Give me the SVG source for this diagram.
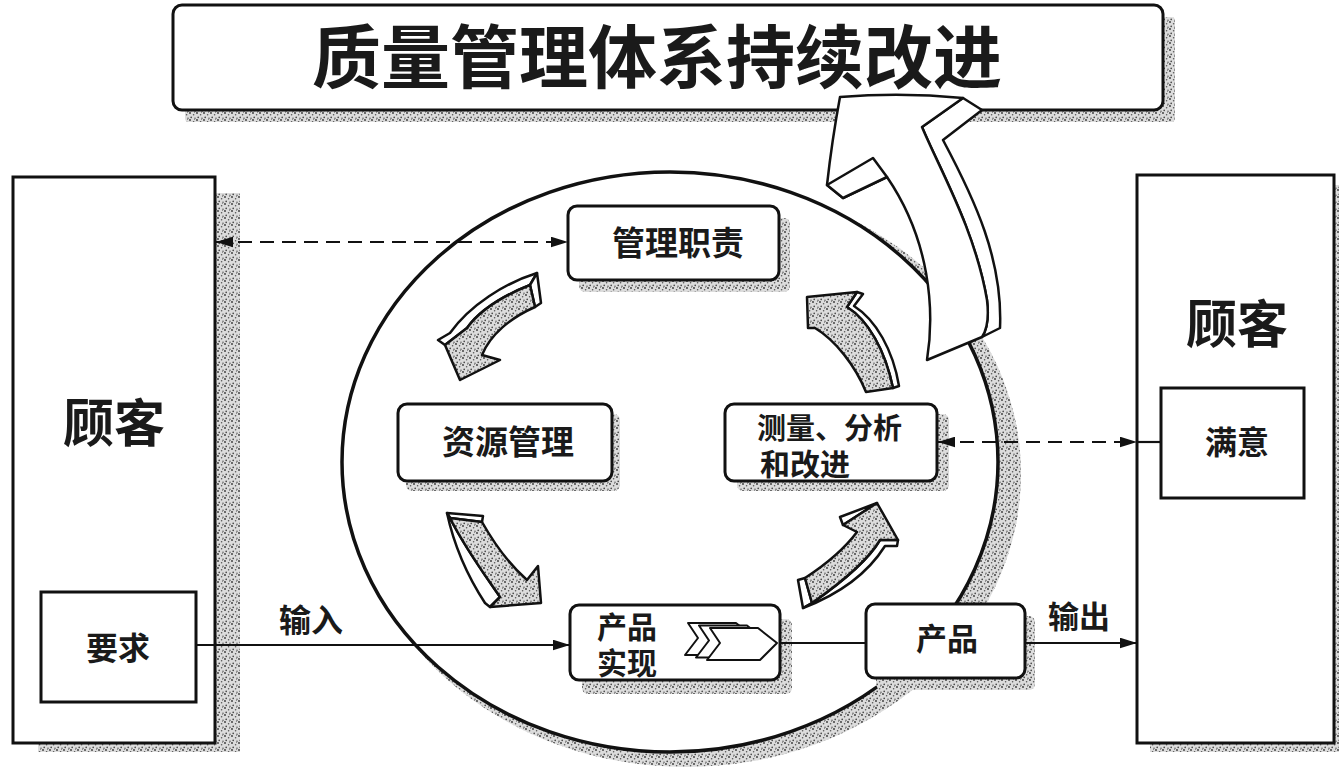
<svg xmlns="http://www.w3.org/2000/svg" width="1339" height="775" viewBox="0 0 1339 775">
<defs>
<pattern id="st" width="7" height="7" patternUnits="userSpaceOnUse">
<rect width="7" height="7" fill="#dcdcdc"/>
<circle cx="1" cy="1" r="0.9" fill="#333"/>
<circle cx="4.6" cy="2.8" r="0.8" fill="#555"/>
<circle cx="2.2" cy="5.4" r="0.8" fill="#444"/>
<circle cx="6" cy="6.2" r="0.6" fill="#222"/>
<circle cx="5.5" cy="0.6" r="0.5" fill="#777"/>
</pattern>
<marker id="ah" viewBox="0 0 16 10" refX="16" refY="5" markerWidth="17" markerHeight="11" markerUnits="userSpaceOnUse" orient="auto-start-reverse">
<path d="M0,0 L16,5 L0,10 Z" fill="#111"/>
</marker>
</defs>
<style>
.t{font-family:"Noto Sans CJK SC","Noto Sans CJK JP",sans-serif;font-weight:700;fill:#1a1a1a}
.box{fill:#fff;stroke:#111;stroke-width:3}
.sh{fill:url(#st);stroke:none}
.ln{stroke:#111;stroke-width:2.2;fill:none}
.dash{stroke:#111;stroke-width:2.2;fill:none;stroke-dasharray:14 8}
.arf{fill:url(#st);stroke:#111;stroke-width:2.5;stroke-linejoin:round}
.arw{fill:#fff;stroke:#111;stroke-width:2.5;stroke-linejoin:round}
</style>
<rect width="1339" height="775" fill="#fff"/>

<g id="title">
<rect class="sh" x="185" y="17" width="990" height="105" rx="4"/>
<rect class="box" x="173" y="5" width="990" height="105" rx="9"/>
<text class="t" x="657" y="83" font-size="69" text-anchor="middle">质量管理体系持续改进</text>
</g>

<g id="customer-left">
<rect class="sh" x="38" y="193" width="202" height="559"/>
<rect class="box" x="13" y="177" width="202" height="566"/>
<text class="t" x="114" y="442" font-size="51" text-anchor="middle">顾客</text>
</g>
<g id="requirement">
<rect class="box" x="41" y="592" width="155" height="110" stroke-width="2.5"/>
<text class="t" x="118" y="660" font-size="32" text-anchor="middle">要求</text>
</g>

<g id="customer-right">
<rect class="sh" x="1150" y="185" width="197" height="567"/>
<rect class="box" x="1137" y="175" width="197" height="568"/>
<text class="t" x="1237" y="343" font-size="51" text-anchor="middle">顾客</text>
</g>
<g id="satisfaction">
<rect class="box" x="1161" y="388" width="143" height="110" stroke-width="2.5"/>
<text class="t" x="1237" y="454" font-size="32" text-anchor="middle">满意</text>
</g>

<g id="cycle">
<ellipse class="sh" cx="686" cy="474" rx="335" ry="293"/>
<ellipse cx="670" cy="462" rx="328" ry="290" fill="#fff" stroke="#111" stroke-width="3.5"/>
</g>

<g id="improvement-arrow">
<path class="arw" d="M963,98 L982,110 L943,140 C975,200 1003,260 1000,328 L982,337 Q990,325 987,300 C975,230 940,170 922,127 Z"/>
<path class="arw" d="M840,97 Q902,92 963,98 L922,127 C940,170 975,230 987,300 Q990,325 982,337 L927,360 C935,310 930,240 887,177 L843,198 L827,185 Q832,140 840,97 Z"/>
<path class="arw" d="M827,185 L873,158 L887,177 L843,198 Z"/>
</g>

<g id="cycle-arrows">
<path class="arw" d="M537,273 C505,283 470,305 450,333 L438,340 L445,345 L467,328 C480,310 505,295 530,285 Z"/>
<path class="arw" d="M537,273 L530,285 L535,307 L541,303 Z"/>
<path class="arf" d="M530,285 C505,295 480,310 467,328 L445,345 L460,380 L500,360 L482,355 C490,335 510,318 535,307 Z"/>

<path class="arw" d="M447,513 L483,516 L482,522 L450,518 Z"/>
<path class="arw" d="M447,513 L450,518 C465,548 485,575 500,597 L490,607 L485,603 C470,580 455,550 447,513 Z"/>
<path class="arf" d="M450,518 L482,522 C495,545 510,565 527,580 L538,566 L541,603 L490,607 L500,597 C485,575 465,548 450,518 Z"/>

<path class="arw" d="M798,580 L805,578 L812,603 L803,608 Z"/>
<path class="arw" d="M803,608 L812,603 C845,580 870,557 880,540 L898,540 L897,546 L885,546 C873,565 850,590 803,608 Z"/>
<path class="arw" d="M840,517 L877,503 L843,525 Z"/>
<path class="arf" d="M805,578 C825,565 845,548 857,532 L843,525 L877,503 L898,540 L880,540 C870,557 845,580 812,603 Z"/>

<path class="arw" d="M893,388 C885,350 868,320 847,307 L857,292 L863,294 L854,306 C876,320 893,350 899,386 Z"/>
<path class="arf" d="M866,392 C855,365 835,340 815,328 L808,328 L807,297 L857,292 L847,307 C868,320 885,350 893,388 Z"/>
</g>

<g id="mgmt-responsibility">
<rect class="sh" x="579" y="218" width="211" height="74" rx="6"/>
<rect class="box" x="568" y="206" width="211" height="74" rx="9" stroke-width="2.5"/>
<text class="t" x="678" y="255" font-size="33" text-anchor="middle">管理职责</text>
</g>
<g id="resource-mgmt">
<rect class="sh" x="406" y="414" width="214" height="77" rx="6"/>
<rect class="box" x="398" y="404" width="214" height="77" rx="9" stroke-width="2.5"/>
<text class="t" x="508" y="454" font-size="33" text-anchor="middle">资源管理</text>
</g>
<g id="measurement">
<rect class="sh" x="737" y="414" width="212" height="77" rx="6"/>
<rect class="box" x="725" y="404" width="212" height="77" rx="9" stroke-width="2.5"/>
<text class="t" font-size="30"><tspan x="757" y="439" font-size="29">测量、分析</tspan><tspan x="760" y="475">和改进</tspan></text>
</g>
<g id="product-realization">
<rect class="sh" x="582" y="619" width="210" height="75" rx="6"/>
<rect class="box" x="570" y="605" width="210" height="75" rx="9" stroke-width="2.5"/>
<text class="t" font-size="30"><tspan x="597" y="638">产品</tspan><tspan x="597" y="674">实现</tspan></text>
<g fill="#fff" stroke="#111" stroke-width="2" stroke-linejoin="round">
<path d="M688,623 L736,623 L755,638 L738,655 L685,655 L698,638 Z"/>
<path d="M699,625.5 L747,625.5 L766,640.5 L749,657.5 L696,657.5 L709,640.5 Z"/>
<path d="M710,628 L758,628 L777,643 L760,660 L707,660 L720,643 Z"/>
</g>
</g>
<g id="product">
<rect class="sh" x="876" y="616" width="159" height="74" rx="6"/>
<rect class="box" x="866" y="604" width="159" height="74" rx="9" stroke-width="2.5"/>
<text class="t" x="947" y="650" font-size="31" text-anchor="middle">产品</text>
</g>

<g id="connectors">
<line class="dash" x1="216" y1="242" x2="568" y2="242" marker-start="url(#ah)" marker-end="url(#ah)"/>
<line class="dash" x1="938" y1="442" x2="1137" y2="442" marker-start="url(#ah)" marker-end="url(#ah)"/>
<line class="ln" x1="1137" y1="442" x2="1161" y2="442"/>
<line class="ln" x1="196" y1="645" x2="570" y2="645" marker-end="url(#ah)"/>
<line class="ln" x1="780" y1="643" x2="866" y2="643"/>
<line class="ln" x1="1025" y1="643" x2="1137" y2="643" marker-end="url(#ah)"/>
<text class="t" x="311" y="632" font-size="32" text-anchor="middle">输入</text>
<text class="t" x="1079" y="628" font-size="31" text-anchor="middle">输出</text>
</g>
</svg>
